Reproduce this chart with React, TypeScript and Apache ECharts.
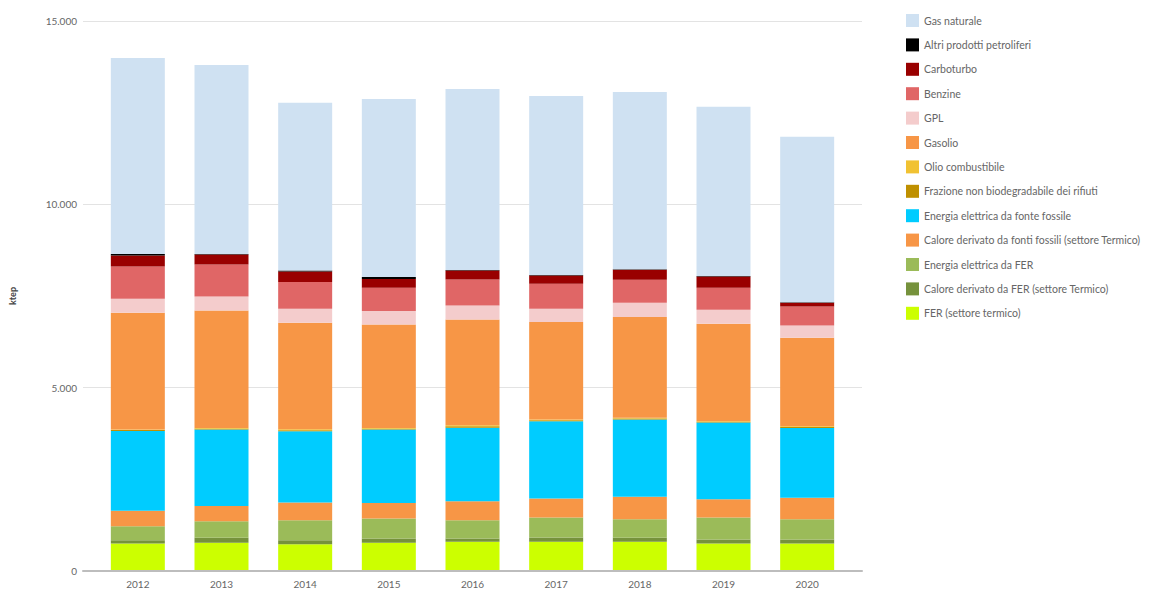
import React, { useEffect, useRef } from "react";
import * as echarts from "echarts";

const years = ["2012", "2013", "2014", "2015", "2016", "2017", "2018", "2019", "2020"];

// stacked from bottom to top
const ferTermico = [723, 742, 704, 742, 770, 770, 770, 723, 723];
const caloreFer = [91, 137, 110, 118, 90, 117, 109, 110, 110];
const elettricaFer = [382, 453, 546, 546, 500, 546, 508, 600, 554];
const caloreFossili = [420, 420, 483, 428, 519, 519, 611, 500, 584];
const elettricaFossile = [2184, 2084, 1947, 2002, 2011, 2110, 2111, 2094, 1911];
const frazione = [22, 26, 30, 26, 35, 27, 30, 20, 24];
const olio = [14, 20, 25, 20, 28, 20, 24, 15, 20];
const gasolio = [3194, 3211, 2912, 2828, 2894, 2667, 2749, 2668, 2421];
const gpl = [382, 382, 382, 366, 382, 363, 391, 382, 336];
const benzine = [882, 873, 729, 636, 710, 683, 627, 600, 519];
const carboturbo = [300, 273, 290, 238, 246, 226, 274, 309, 101];
const altri = [40, 15, 27, 54, 15, 15, 12, 15, 10];
const gasNaturale = [5357, 5164, 4578, 4868, 4945, 4891, 4847, 4618, 4522];

const seriesDefs = [
  { name: "FER (settore termico)", data: ferTermico, color: "#ccff00" },
  { name: "Calore derivato da FER (settore Termico)", data: caloreFer, color: "#76923c" },
  { name: "Energia elettrica da FER", data: elettricaFer, color: "#9bbb59" },
  { name: "Calore derivato da fonti fossili (settore Termico)", data: caloreFossili, color: "#f79646" },
  { name: "Energia elettrica da fonte fossile", data: elettricaFossile, color: "#00ccff" },
  { name: "Frazione non biodegradabile dei rifiuti", data: frazione, color: "#bf9000" },
  { name: "Olio combustibile", data: olio, color: "#f1c232" },
  { name: "Gasolio", data: gasolio, color: "#f79646" },
  { name: "GPL", data: gpl, color: "#f4cccc" },
  { name: "Benzine", data: benzine, color: "#e06666" },
  { name: "Carboturbo", data: carboturbo, color: "#990000" },
  { name: "Altri prodotti petroliferi", data: altri, color: "#000000" },
  { name: "Gas naturale", data: gasNaturale, color: "#cfe1f2" },
];

const yTicks = { min: 0, max: 15000, interval: 5000 };

const fmt = (v: number) => String(Math.round(v)).replace(/\B(?=(\d{3})+(?!\d))/g, ".");

export default function App() {
  const ref = useRef<HTMLDivElement>(null);
  useEffect(() => {
    if (!ref.current) return;
    const chart = echarts.init(ref.current, undefined, { renderer: "svg" });
    const font = "Lato";
    chart.setOption({
      animation: false,
      backgroundColor: "#ffffff",
      textStyle: { fontFamily: font },
      grid: [
        { left: 83, right: 300, top: 21, bottom: 18 },
        { left: 96, right: 313, top: 21, bottom: 18 },
      ],
      legend: {
        orient: "vertical",
        left: 901,
        top: 9,
        icon: "rect",
        itemWidth: 13,
        itemHeight: 13,
        itemGap: 11.4,
        textStyle: { fontSize: 10.5, color: "#666", fontFamily: font },
        data: seriesDefs.map((s) => s.name).reverse(),
      },
      xAxis: [
        {
          type: "value",
          gridIndex: 0,
          min: 0,
          max: 1,
          axisLine: { show: true, lineStyle: { color: "#bdbdbd", width: 2 } },
          axisTick: { show: false },
          axisLabel: { show: false },
          splitLine: { show: false },
        },
        {
          type: "category",
          gridIndex: 1,
          data: years,
          axisLine: { show: false },
          axisTick: { show: false },
          axisLabel: { color: "#666", fontSize: 10, margin: 9, fontFamily: font },
        },
      ],
      yAxis: [
        {
          type: "value",
          gridIndex: 0,
          min: yTicks.min,
          max: yTicks.max,
          interval: yTicks.interval,
          name: "ktep",
          nameLocation: "middle",
          nameGap: 66,
          nameTextStyle: { fontSize: 9, fontWeight: "bold", color: "#444", fontFamily: font },
          axisLine: { show: false },
          axisTick: { show: false },
          axisLabel: { color: "#666", fontSize: 10, margin: 6, formatter: fmt, fontFamily: font },
          splitLine: { lineStyle: { color: "#e3e3e3", width: 1 } },
        },
        {
          type: "value",
          gridIndex: 1,
          min: yTicks.min,
          max: yTicks.max,
          interval: yTicks.interval,
          show: false,
          splitLine: { show: false },
        },
      ],
      series: seriesDefs.map((s) => ({
        name: s.name,
        type: "bar",
        stack: "total",
        xAxisIndex: 1,
        yAxisIndex: 1,
        barWidth: 54,
        data: s.data,
        itemStyle: { color: s.color },
      })),
    });
    return () => chart.dispose();
  }, []);
  return (
    <div
      ref={ref}
      style={{ position: "fixed", left: 0, top: 0, width: 1162, height: 589, background: "#fff" }}
    />
  );
}
